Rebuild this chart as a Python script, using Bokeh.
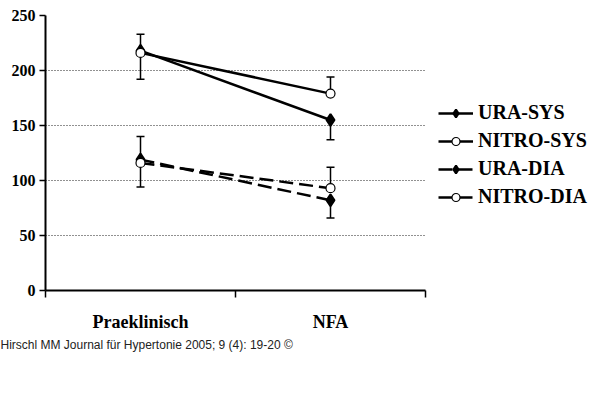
from bokeh.plotting import figure
from bokeh.models import (Range1d, FixedTicker, Whisker, ColumnDataSource, Legend,
                          LegendItem, Title, TeeHead)
from bokeh.embed import file_html
from bokeh.resources import INLINE

categories = ["Praeklinisch", "NFA"]
ura_sys = [218, 155]
ura_sys_err = [26, 18]
nitro_sys = [216, 179]
nitro_sys_err = [17, 15]
ura_dia = [119, 82]
ura_dia_err = [25, 16]
nitro_dia = [116, 93]
nitro_dia_err = [24, 19]
y_ticks = [0, 50, 100, 150, 200, 250]
caption = "Hirschl MM Journal für Hypertonie 2005; 9 (4): 19-20 ©"

xs = [i + 0.5 for i in range(len(categories))]
bounds = list(range(len(categories) + 1))

p = figure(frame_width=380, frame_height=275,
           x_range=Range1d(0, len(categories)), y_range=Range1d(0, 250),
           output_backend="svg", toolbar_location=None,
           min_border_left=45, min_border_right=0, min_border_top=15, min_border_bottom=105)
p.outline_line_color = None
p.background_fill_color = "white"
p.border_fill_color = "white"
p.xgrid.visible = False
p.ygrid.ticker = FixedTicker(ticks=y_ticks)
p.ygrid.grid_line_color = "#222222"
p.ygrid.grid_line_dash = "1 2"
p.ygrid.grid_line_width = 1

serif = "Liberation Serif"

xa = p.xaxis[0]
xa.ticker = FixedTicker(ticks=xs, minor_ticks=bounds)
xa.major_label_overrides = {x: c for x, c in zip(xs, categories)}
xa.major_tick_line_color = None
xa.minor_tick_line_color = "black"
xa.minor_tick_line_width = 1.5
xa.minor_tick_out = 7
xa.minor_tick_in = 0
xa.axis_line_width = 2
xa.axis_line_color = "black"
xa.major_label_text_font = serif
xa.major_label_text_font_style = "bold"
xa.major_label_text_font_size = "18px"
xa.major_label_text_color = "black"
xa.major_label_standoff = 14

ya = p.yaxis[0]
ya.ticker = FixedTicker(ticks=y_ticks)
ya.major_tick_out = 6
ya.major_tick_in = 0
ya.major_tick_line_width = 1.5
ya.major_tick_line_color = "black"
ya.minor_tick_line_color = None
ya.axis_line_width = 2
ya.axis_line_color = "black"
ya.major_label_text_font = serif
ya.major_label_text_font_style = "bold"
ya.major_label_text_font_size = "16px"
ya.major_label_text_color = "black"
ya.major_label_standoff = 4

series = [
    ("URA-SYS", ura_sys, ura_sys_err, "solid", "diamond", -1),
    ("NITRO-SYS", nitro_sys, nitro_sys_err, "solid", "circle", 1),
    ("URA-DIA", ura_dia, ura_dia_err, "14 6", "diamond", -1),
    ("NITRO-DIA", nitro_dia, nitro_dia_err, "14 6", "circle", 1),
]

items = []
line_rs = {}
for name, vals, errs, dash, marker, sign in series:
    lr = p.line(xs, vals, line_color="black", line_width=2.5, line_dash=dash)
    line_rs[name] = lr

for name, vals, errs, dash, marker, sign in series:
    if sign > 0:
        lo = vals
        hi = [v + e for v, e in zip(vals, errs)]
    else:
        lo = [v - e for v, e in zip(vals, errs)]
        hi = vals
    src = ColumnDataSource(dict(x=xs, lower=lo, upper=hi))
    w = Whisker(source=src, base="x", lower="lower", upper="upper",
                line_color="black", line_width=1.5)
    head = TeeHead(size=8, line_color="black", line_width=1.5)
    if sign > 0:
        w.upper_head = head
        w.lower_head = None
    else:
        w.lower_head = head
        w.upper_head = None
    p.add_layout(w)

for name, vals, errs, dash, marker, sign in series:
    if marker == "diamond":
        mr = p.scatter(xs, vals, marker="diamond", size=12,
                       fill_color="black", line_color="black", line_width=2)
    else:
        mr = p.scatter(xs, vals, marker="circle", size=9,
                       fill_color="white", line_color="black", line_width=1.2)
    items.append(LegendItem(label=name, renderers=[line_rs[name], mr]))

legend = Legend(items=items, location=(13, 82), orientation="vertical")
legend.border_line_color = None
legend.background_fill_alpha = 0
legend.margin = 0
legend.padding = 12
legend.glyph_width = 35
legend.glyph_height = 20
legend.label_height = 20
legend.spacing = 5
legend.label_standoff = 5
legend.label_text_font = serif
legend.label_text_font_style = "bold"
legend.label_text_font_size = "20px"
legend.label_text_color = "black"
p.add_layout(legend, "right")

cap = Title(text=caption, align="left", text_font="Liberation Sans", text_font_size="12px",
            text_font_style="normal", text_color="#222222", offset=-45, standoff=2)
p.add_layout(cap, "below")

open("out.html", "w").write(file_html(p, INLINE))
